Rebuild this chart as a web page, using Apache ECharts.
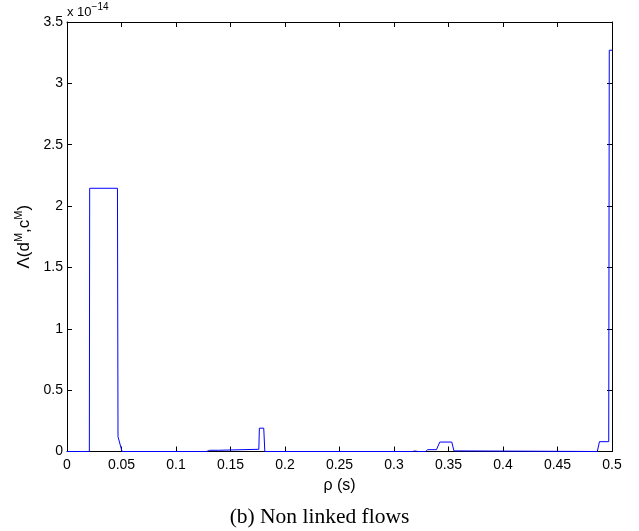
<!DOCTYPE html>
<html><head><meta charset="utf-8">
<script src="https://cdn.jsdelivr.net/npm/echarts@6/dist/echarts.min.js"></script>
<style>html,body{margin:0;padding:0;background:#fff}#c{width:639px;height:531px}</style>
</head><body><div id="c"></div>
<script>
// rho (s) breakpoints and Lambda values (x 1e-14)
const rho = [0, 0.0205, 0.0208, 0.0463, 0.0468, 0.0485, 0.0505, 0.128, 0.131, 0.139, 0.14, 0.176, 0.1765, 0.1805, 0.1815, 0.317, 0.319, 0.322, 0.329, 0.331, 0.339, 0.342, 0.353, 0.355, 0.358, 0.359, 0.4865, 0.4885, 0.497, 0.4975, 0.5];
const lambda = [0, 0, 2.145, 2.145, 0.12, 0.12, 0, 0, 0.01, 0.01, 0.018, 0.018, 0.19, 0.19, 0, 0, 0.004, 0, 0, 0.015, 0.015, 0.077, 0.077, 0.005, 0.005, 0, 0, 0.08, 0.08, 3.27, 3.27];
const xTicks = [0, 0.5, 0.05];
const yTicks = [0, 3.5, 0.5];

const font = 'Liberation Sans, Arial, sans-serif';
const chart = echarts.init(document.getElementById('c'));
const data = rho.map((r, i) => [r, lambda[i]]);
const axisCommon = {
  axisLine: {show: true, onZero: false, lineStyle: {color: '#000', width: 1}},
  axisTick: {show: true, inside: true, length: 5, lineStyle: {color: '#000'}},
  splitLine: {show: false}
};
chart.setOption({
  animation: false,
  grid: {left: 67, right: 27, top: 22, bottom: 79.5},
  xAxis: [
    Object.assign({type: 'value', min: xTicks[0], max: xTicks[1], interval: xTicks[2],
      name: 'ρ (s)', nameLocation: 'middle', nameGap: 23,
      nameTextStyle: {fontFamily: font, fontSize: 16, color: '#000', lineHeight: 16},
      axisLabel: {fontFamily: font, fontSize: 14, color: '#000', margin: 7}}, axisCommon),
    Object.assign({type: 'value', position: 'top', min: xTicks[0], max: xTicks[1], interval: xTicks[2],
      axisLabel: {show: false}}, axisCommon)
  ],
  yAxis: [
    Object.assign({type: 'value', min: yTicks[0], max: yTicks[1], interval: yTicks[2],
      name: '{a|Λ(d}{s|M}{a|,c}{s|M}{a|)}', nameLocation: 'middle', nameGap: 28, nameRotate: 90,
      nameTextStyle: {rich: {
        a: {fontFamily: font, fontSize: 17, color: '#000', lineHeight: 19, verticalAlign: 'bottom'},
        s: {fontFamily: font, fontSize: 11, color: '#000', lineHeight: 19, verticalAlign: 'top'}
      }},
      axisLabel: {fontFamily: font, fontSize: 14, color: '#000', margin: 4}}, axisCommon),
    Object.assign({type: 'value', position: 'right', min: yTicks[0], max: yTicks[1], interval: yTicks[2],
      axisLabel: {show: false}}, axisCommon)
  ],
  series: [{
    type: 'line', data: data, symbol: 'none', xAxisIndex: 0, yAxisIndex: 0,
    lineStyle: {color: '#0000ff', width: 1}
  }],
  graphic: [
    {type: 'text', left: 67, top: 2, style: {text: '{a|x 10}{s|−14}', rich: {
      a: {fontFamily: font, fontSize: 13, fill: '#000', lineHeight: 17, verticalAlign: 'bottom'},
      s: {fontFamily: font, fontSize: 10, fill: '#000', lineHeight: 17, verticalAlign: 'top'}
    }}},
    {type: 'text', x: 319.5, y: 517, style: {text: '(b) Non linked flows', align: 'center', verticalAlign: 'middle',
      fontFamily: 'Liberation Serif, Times New Roman, serif', fontSize: 21.5, fill: '#000'}}
  ]
});
</script></body></html>
